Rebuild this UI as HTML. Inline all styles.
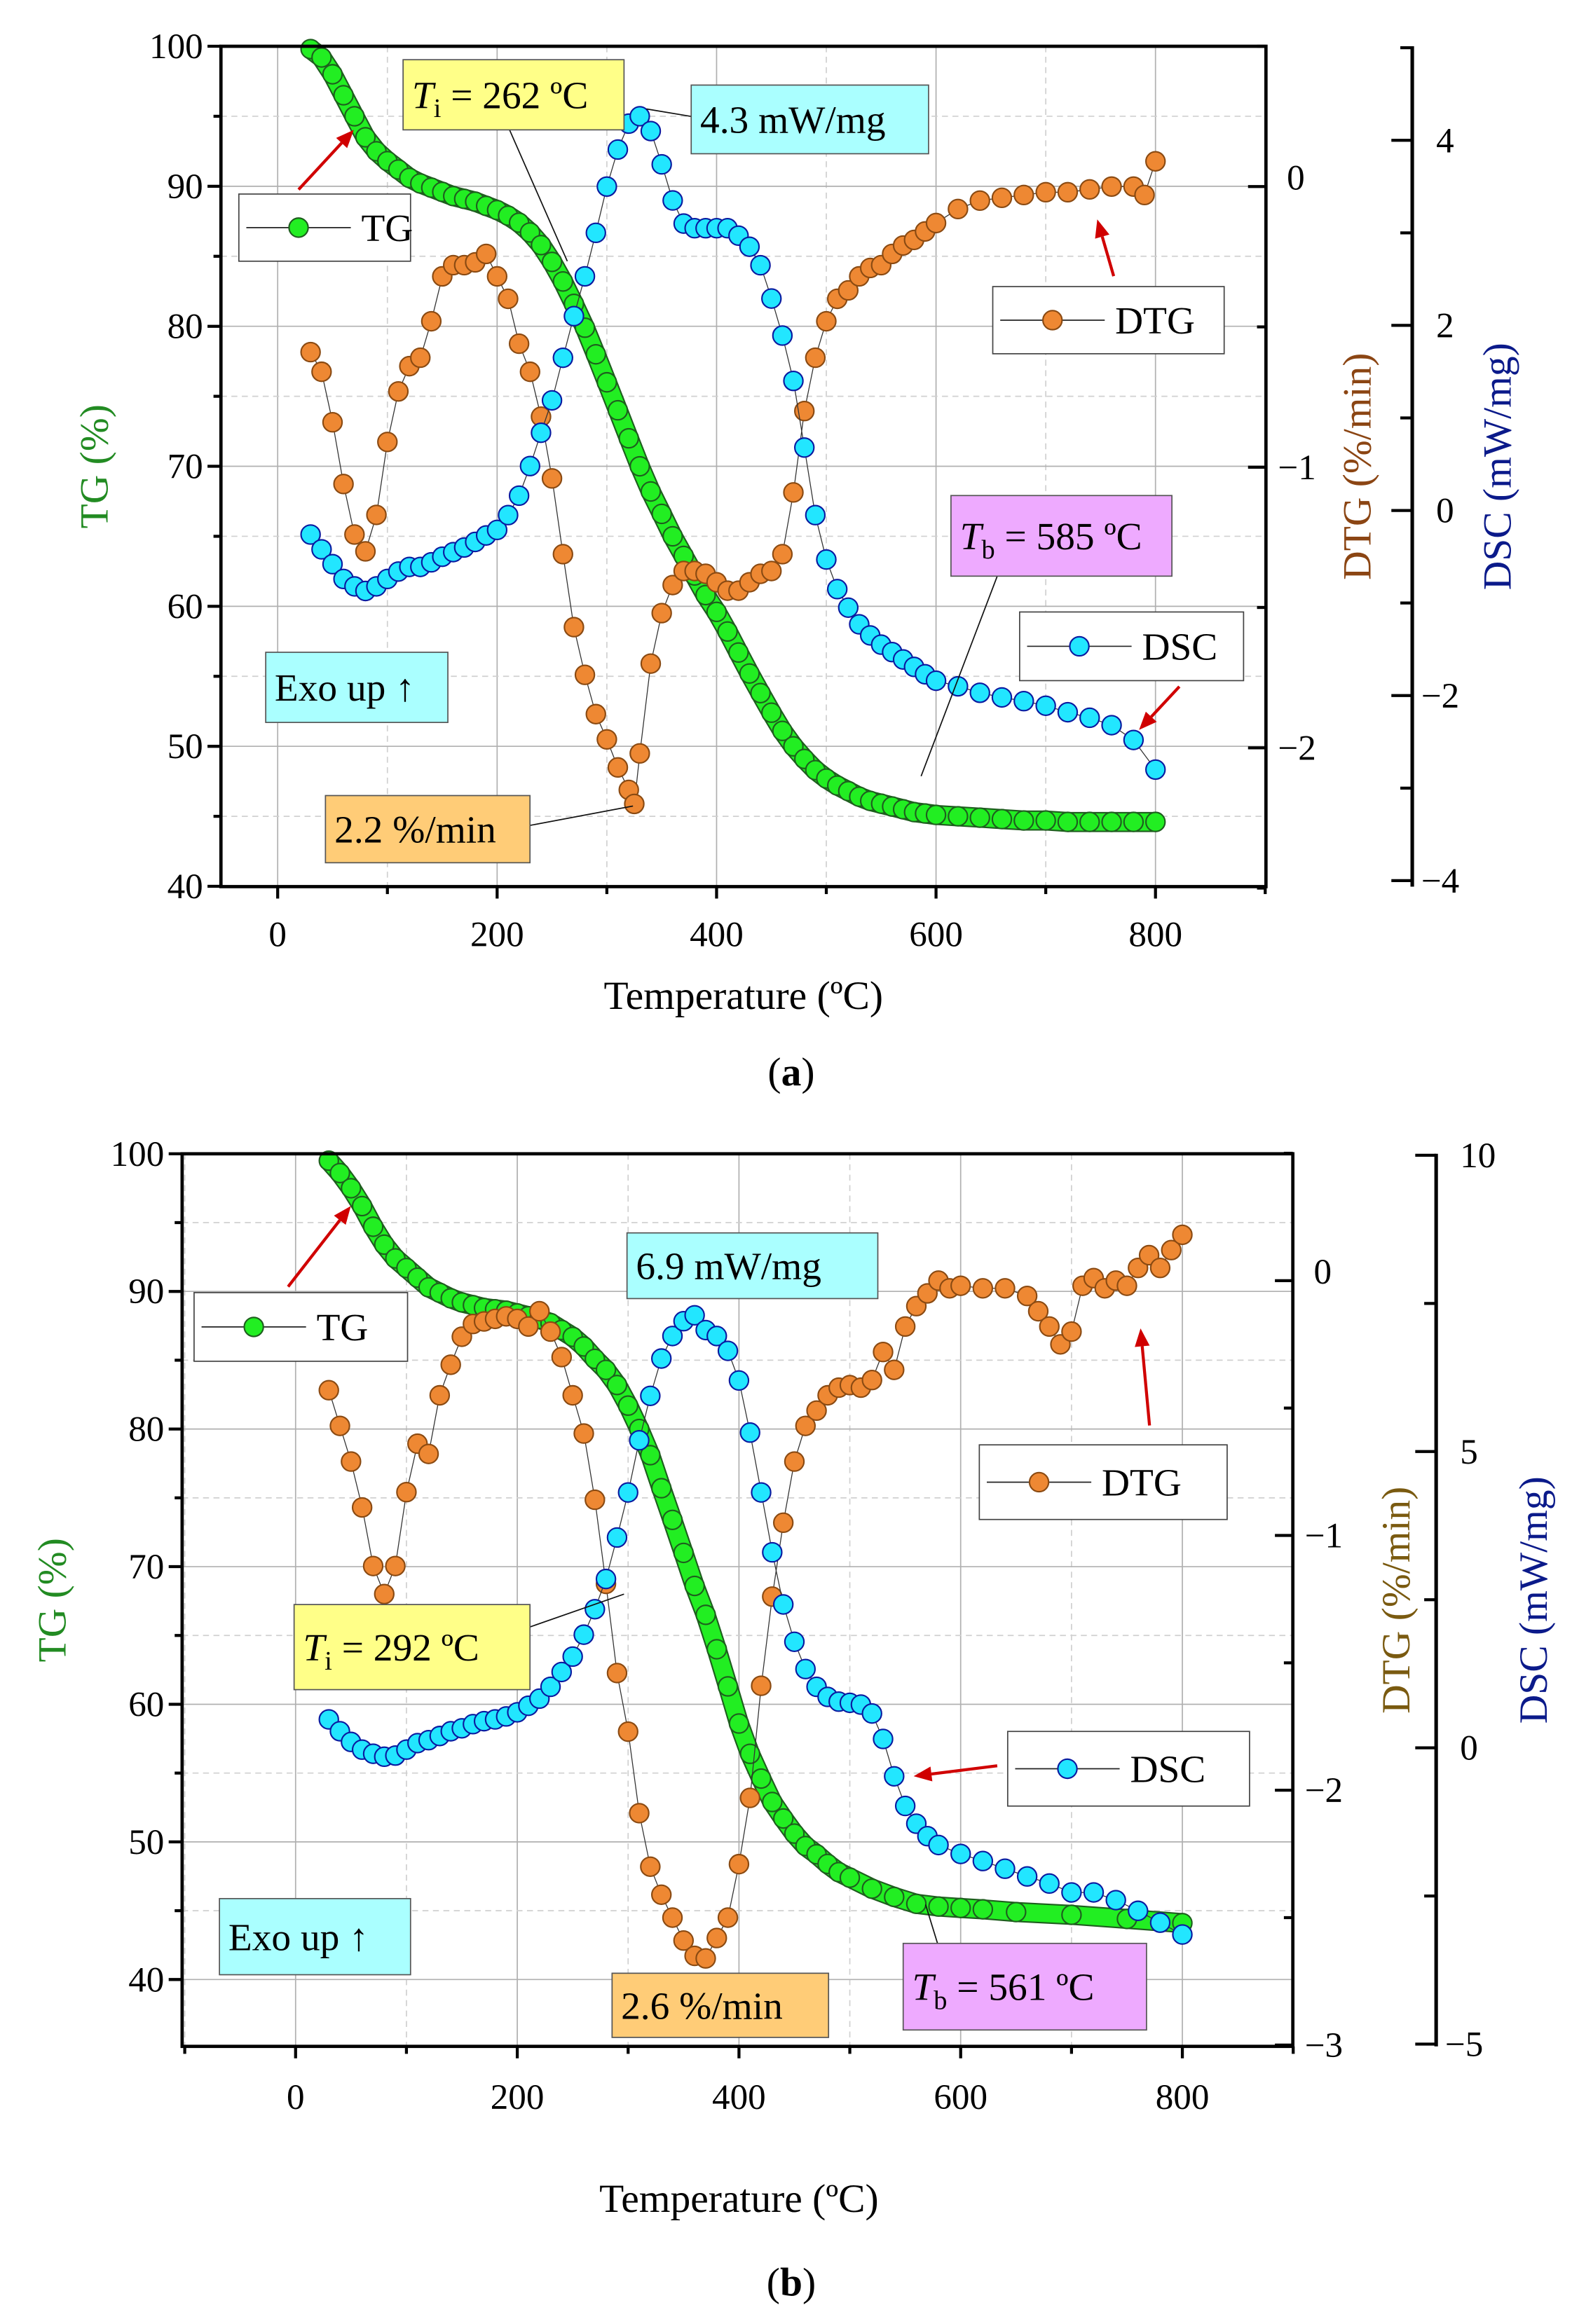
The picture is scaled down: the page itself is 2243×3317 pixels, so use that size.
<!DOCTYPE html>
<html><head><meta charset="utf-8">
<style>
html,body{margin:0;padding:0;background:#fff;}
svg{display:block;}
text{font-family:"Liberation Serif",serif;}
</style></head>
<body>
<svg id="fig" xmlns="http://www.w3.org/2000/svg" width="2243" height="3317" viewBox="0 0 1053 1557" preserveAspectRatio="none"></svg>
<script>
// ---------- Panel (a) data ----------
const tgTempA = [30,40,50,60,70,80,90,100,110,120,130,140,150,160,170,180,190,200,210,220,230,240,250,260,270,280,290,300,310,320,330,340,350,360,370,380,390,400,410,420,430,440,450,460,470,480,490,500,510,520,530,540,550,560,570,580,590,600,620,640,660,680,700,720,740,760,780,800];
const tgValA = [99.8,99.2,98.0,96.5,95.0,93.5,92.5,91.8,91.2,90.6,90.2,89.9,89.6,89.3,89.1,88.9,88.6,88.3,87.9,87.4,86.7,85.8,84.6,83.2,81.6,79.9,78.0,76.0,74.0,72.0,70.0,68.2,66.6,65.0,63.6,62.2,60.8,59.6,58.2,56.7,55.2,53.8,52.4,51.1,50.0,49.1,48.3,47.7,47.2,46.8,46.4,46.1,45.9,45.7,45.5,45.3,45.2,45.1,45.0,44.9,44.8,44.7,44.7,44.6,44.6,44.6,44.6,44.6];
const dtgTempA = [30,40,50,60,70,80,90,100,110,120,130,140,150,160,170,180,190,200,210,220,230,240,250,260,270,280,290,300,310,320,325,330,340,350,360,370,380,390,400,410,420,430,440,450,460,470,480,490,500,510,520,530,540,550,560,570,580,590,600,620,640,660,680,700,720,740,760,780,790,800];
const dtgValA = [-0.59,-0.66,-0.84,-1.06,-1.24,-1.3,-1.17,-0.91,-0.73,-0.64,-0.61,-0.48,-0.32,-0.28,-0.28,-0.27,-0.24,-0.32,-0.4,-0.56,-0.66,-0.82,-1.04,-1.31,-1.57,-1.74,-1.88,-1.97,-2.07,-2.15,-2.2,-2.02,-1.7,-1.52,-1.42,-1.37,-1.37,-1.38,-1.41,-1.44,-1.44,-1.41,-1.38,-1.37,-1.31,-1.09,-0.8,-0.61,-0.48,-0.4,-0.37,-0.32,-0.29,-0.28,-0.24,-0.21,-0.19,-0.16,-0.13,-0.08,-0.05,-0.04,-0.03,-0.02,-0.02,-0.01,0.0,0.0,-0.03,0.09];
const dscTempA = [30,40,50,60,70,80,90,100,110,120,130,140,150,160,170,180,190,200,210,220,230,240,250,260,270,280,290,300,310,320,330,340,350,360,370,380,390,400,410,420,430,440,450,460,470,480,490,500,510,520,530,540,550,560,570,580,590,600,620,640,660,680,700,720,740,760,780,800];
const dscValA = [-0.26,-0.42,-0.58,-0.74,-0.82,-0.87,-0.82,-0.74,-0.66,-0.61,-0.61,-0.56,-0.5,-0.45,-0.4,-0.34,-0.27,-0.21,-0.05,0.16,0.48,0.84,1.19,1.65,2.1,2.53,3.0,3.5,3.9,4.18,4.26,4.1,3.74,3.35,3.1,3.05,3.05,3.05,3.05,2.97,2.85,2.65,2.29,1.89,1.4,0.68,-0.05,-0.53,-0.85,-1.05,-1.23,-1.35,-1.45,-1.53,-1.61,-1.69,-1.77,-1.84,-1.9,-1.97,-2.02,-2.06,-2.11,-2.18,-2.24,-2.32,-2.48,-2.8];
// ---------- Panel (b) data ----------
const tgTempB = [30,40,50,60,70,80,90,100,110,120,130,140,150,160,170,180,190,200,210,220,230,240,250,260,270,280,290,300,310,320,330,340,350,360,370,380,390,400,410,420,430,440,450,460,470,480,490,500,520,540,560,580,600,620,650,700,750,800];
const tgValB = [99.5,98.6,97.5,96.2,94.7,93.4,92.4,91.7,91.0,90.3,89.9,89.5,89.2,89.0,88.8,88.7,88.6,88.4,88.2,88.0,87.7,87.2,86.7,86.0,85.1,84.3,83.2,81.7,80.0,78.1,75.7,73.4,71.0,68.6,66.5,64.0,61.3,58.6,56.4,54.6,52.9,51.7,50.6,49.7,49.1,48.4,47.8,47.4,46.6,46.0,45.5,45.3,45.2,45.1,44.9,44.7,44.4,44.1];
const dtgTempB = [30,40,50,60,70,80,90,100,110,120,130,140,150,160,170,180,190,200,210,220,230,240,250,260,270,280,290,300,310,320,330,340,350,360,370,380,390,400,410,420,430,440,450,460,470,480,490,500,510,520,530,540,550,560,570,580,590,600,620,640,660,670,680,690,700,710,720,730,740,750,760,770,780,790,800];
const dtgValB = [-0.43,-0.57,-0.71,-0.89,-1.12,-1.23,-1.12,-0.83,-0.64,-0.68,-0.45,-0.33,-0.22,-0.17,-0.16,-0.15,-0.14,-0.15,-0.18,-0.12,-0.2,-0.3,-0.45,-0.6,-0.86,-1.19,-1.54,-1.77,-2.09,-2.3,-2.41,-2.5,-2.59,-2.65,-2.66,-2.58,-2.5,-2.29,-2.03,-1.59,-1.24,-0.95,-0.71,-0.57,-0.51,-0.45,-0.42,-0.41,-0.42,-0.39,-0.28,-0.35,-0.18,-0.1,-0.05,0.0,-0.03,-0.02,-0.03,-0.03,-0.06,-0.12,-0.18,-0.25,-0.2,-0.02,0.01,-0.03,0.0,-0.02,0.05,0.1,0.05,0.12,0.18];
const dscTempB = [30,40,50,60,70,80,90,100,110,120,130,140,150,160,170,180,190,200,210,220,230,240,250,260,270,280,290,300,310,320,330,340,350,360,370,380,390,400,410,420,430,440,450,460,470,480,490,500,510,520,530,540,550,560,570,580,600,620,640,660,680,700,720,740,760,780,800];
const dscValB = [0.48,0.28,0.1,-0.03,-0.1,-0.15,-0.13,-0.03,0.08,0.13,0.2,0.28,0.33,0.4,0.45,0.48,0.53,0.6,0.71,0.83,1.03,1.28,1.54,1.91,2.34,2.85,3.55,4.31,5.19,5.94,6.57,6.95,7.2,7.3,7.05,6.95,6.7,6.2,5.32,4.31,3.3,2.42,1.79,1.33,1.03,0.86,0.78,0.76,0.73,0.58,0.15,-0.48,-0.98,-1.28,-1.49,-1.64,-1.79,-1.91,-2.04,-2.17,-2.29,-2.44,-2.44,-2.57,-2.75,-2.95,-3.15];

const tempTicks = [0,200,400,600,800];
const tgTicks = [40,50,60,70,80,90,100];
const dtgTicksA = [0,-1,-2];
const dscTicksA = [4,2,0,-2,-4];
const dtgTicksB = [0,-1,-2,-3];
const dscTicksB = [10,5,0,-5];

const NS = "http://www.w3.org/2000/svg";
const svg = document.getElementById('fig');
function el(tag, attrs, parent, txt){
  const e = document.createElementNS(NS, tag);
  for (const k in attrs) e.setAttribute(k, attrs[k]);
  if (txt !== undefined) e.textContent = txt;
  (parent||svg).appendChild(e);
  return e;
}
function fmt(v){ return v<0 ? '\u2212'+Math.abs(v) : String(v); }

function panel(P){
  const g = el('g', {});
  
  
  const X = t => P.L + (t - P.t0) * (P.x800 - P.x0px) / 800 + 0;
  const xs = t => P.x0px + t * (P.x800 - P.x0px) / 800;
  const Ytg = v => P.y100 + (100 - v) * P.tgPer10 / 10;
  const Ydtg = v => P.ydtg0 - v * P.dtgPer;
  const Ydsc = v => P.ydsc0 - v * P.dscPer;
  // grid
  for (let t=-100; t<=900; t+=100){
    const x = xs(t); if (x<=P.L+1 || x>=P.R-1) continue;
    const gl = el('line', {x1:x,y1:P.T,x2:x,y2:P.B,stroke: t%200===0?'#b0b0b0':'#d0d0d0','stroke-width':0.8,'stroke-dasharray': t%200===0?'none':'4,3'}, g);
     
  }
  for (let v=35; v<=100; v+=5){
    const y = Ytg(v); if (y<=P.T+1 || y>=P.B-1) continue;
    const gl = el('line', {x1:P.L,y1:y,x2:P.R,y2:y,stroke: v%10===0?'#b0b0b0':'#d0d0d0','stroke-width':0.8,'stroke-dasharray': v%10===0?'none':'4,3'}, g);
     
  }
  // series
  function series(temps, vals, Y, fill, stroke, nm, band){
    const sg = el('g', {}, g);
     
    const pts = temps.map((t,i)=> xs(t).toFixed(1)+','+Y(vals[i]).toFixed(1)).join(' ');
    if (band){
      el('polyline',{points:pts,fill:'none',stroke:stroke,'stroke-width':13.5,'stroke-linejoin':'round','stroke-linecap':'round'},sg);
      el('polyline',{points:pts,fill:'none',stroke:fill,'stroke-width':11.5,'stroke-linejoin':'round','stroke-linecap':'round'},sg);
    } else {
      el('polyline',{points:pts,fill:'none',stroke:'#333','stroke-width':0.6},sg);
    }
    temps.forEach((t,i)=>{
      const c = el('circle',{cx:xs(t),cy:Y(vals[i]),r:6.4,fill:fill,stroke:stroke,'stroke-width':1},sg);
      
      
    });
  }
  series(P.tgT, P.tgV, Ytg, '#22ee22', '#1e5e1e', 'tg', true);
  series(P.dtgT, P.dtgV, Ydtg, '#ee8833', '#8a4a12', 'dtg', false);
  series(P.dscT, P.dscV, Ydsc, '#22e6ff', '#0a1aa0', 'dsc', false);
  // frame
  const fr = el('rect',{x:P.L,y:P.T,width:P.R-P.L,height:P.B-P.T,fill:'none',stroke:'#000','stroke-width':2.2},g);
   
  // left ticks
  for (let v=35; v<=100; v+=5){
    const y=Ytg(v); if (y<P.T-1||y>P.B+1) continue;
    el('line',{x1:P.L,y1:y,x2:P.L-(v%10===0?9:5),y2:y,stroke:'#000','stroke-width':2},g);
  }
  tgTicks.forEach(v=>{
    const tx = el('text',{x:P.L-12,y:Ytg(v)+8,'font-size':24,'text-anchor':'end'},g,String(v));
     
  });
  // bottom ticks
  for (let t=-100; t<=900; t+=100){
    const x=xs(t); if (x<P.L-1||x>P.R+1) continue;
    el('line',{x1:x,y1:P.B,x2:x,y2:P.B+(t%200===0?8:5),stroke:'#000','stroke-width':2},g);
  }
  tempTicks.forEach(t=>{
    const tx = el('text',{x:xs(t),y:P.B+P.xlabOff,'font-size':24,'text-anchor':'middle'},g,String(t));
     
  });
  // DTG ticks (inward)
  for (let v=-3; v<=0.5; v+=0.5){
    const y=Ydtg(v); if (y<P.T-1||y>P.B+1) continue;
    el('line',{x1:P.R,y1:y,x2:P.R-(Number.isInteger(v)?12:6),y2:y,stroke:'#000','stroke-width':2},g);
  }
  P.dtgTicks.forEach(v=>{
    const tx = el('text',{x:P.R+(v<0?8:14),y:Ydtg(v)+(v===0?2:8),'font-size':24},g,fmt(v));
     
  });
  // DSC axis
  const da = el('line',{x1:P.D,y1:P.T,x2:P.D,y2:P.B,stroke:'#000','stroke-width':2.4},g);
   
  for (let v=P.dscMin; v<=P.dscMax+0.01; v+=P.dscMinor){
    const y=Ydsc(v); if (y<P.T-1||y>P.B+1) continue;
    const maj = Math.abs(Math.round(v/P.dscMajor)*P.dscMajor - v) < 1e-6;
    el('line',{x1:P.D,y1:y,x2:P.D-(maj?14:8),y2:y,stroke:'#000','stroke-width':2},g);
  }
  P.dscTicks.forEach(v=>{
    const tx = el('text',{x:P.D+(v<0?6:16),y:Ydsc(v)+8,'font-size':24},g,fmt(v));
     
  });
  // axis titles
  const cy=(P.T+P.B)/2;
  let t1 = el('text',{x:0,y:0,'font-size':27,fill:'#228b22','text-anchor':'middle',transform:`translate(${P.tgTitleX},${cy}) rotate(-90)`},g,'TG (%)');
   
  let t2 = el('text',{x:0,y:0,'font-size':27,fill:P.dtgColor,'text-anchor':'middle',transform:`translate(${P.dtgTitleX},${cy}) rotate(-90)`},g,'DTG (%/min)');
   
  let t3 = el('text',{x:0,y:0,'font-size':27,fill:'#0b1a8a','text-anchor':'middle',transform:`translate(${P.dscTitleX},${cy}) rotate(-90)`},g,'DSC (mW/mg)');
   
  let t4 = el('text',{x:P.xTitleX,y:P.xTitleY,'font-size':27,'text-anchor':'middle'},g,'Temperature (\u00BAC)');
   
  let t5 = el('text',{x:P.capX,y:P.capY,'font-size':27,'text-anchor':'middle'},g);
   
  t5.innerHTML = '(<tspan font-weight="bold">'+P.cap+'</tspan>)';
  return g;
}

function box(x,y,w,h,fill,html,nm){
  const g = el('g',{});
   
  el('rect',{x:x,y:y,width:w,height:h,fill:fill,stroke:'#555','stroke-width':0.8},g);
  const t = el('text',{x:x+6,y:y+h/2+9,'font-size':26},g);
  t.innerHTML = html;
  return g;
}
function legend(x,y,w,h,fill,stroke,label,nm){
  const g = el('g',{});
   
  el('rect',{x:x,y:y,width:w,height:h,fill:'#fff',stroke:'#444','stroke-width':0.8},g);
  el('line',{x1:x+5,y1:y+h/2,x2:x+75,y2:y+h/2,stroke:'#222','stroke-width':0.8},g);
  el('circle',{cx:x+40,cy:y+h/2,r:6.4,fill:fill,stroke:stroke,'stroke-width':1},g);
  el('text',{x:x+82,y:y+h/2+9,'font-size':26},g,label);
}
function arrow(x1,y1,x2,y2,nm){
  const g = el('g',{});
   
  const a=Math.atan2(y2-y1,x2-x1), L=12, W=5;
  const bx=x2-L*Math.cos(a), by=y2-L*Math.sin(a);
  el('line',{x1:x1,y1:y1,x2:bx,y2:by,stroke:'#d00000','stroke-width':2},g);
  el('polygon',{points:`${x2},${y2} ${bx-W*Math.sin(a)},${by+W*Math.cos(a)} ${bx+W*Math.sin(a)},${by-W*Math.cos(a)}`,fill:'#d00000'},g);
}
function leader(x1,y1,x2,y2){
  const l = el('line',{x1:x1,y1:y1,x2:x2,y2:y2,stroke:'#111','stroke-width':0.8});
   
}

// ----- Panel (a) -----
panel({name:'panel-a',L:148,R:848,T:31,B:594,x0px:186,x800:774,y100:31,tgPer10:93.8,
  ydtg0:125,dtgPer:188,ydsc0:342,dscPer:62,D:946,dscMin:-4,dscMax:5,dscMinor:1,dscMajor:2,
  tgT:tgTempA,tgV:tgValA,dtgT:dtgTempA,dtgV:dtgValA,dscT:dscTempA,dscV:dscValA,
  dtgTicks:dtgTicksA,dscTicks:dscTicksA,xlabOff:40,
  tgTitleX:72,dtgTitleX:918,dtgColor:'#8b4513',dscTitleX:1012,xTitleX:498,xTitleY:676,capX:530,capY:727,cap:'a'});
leader(340,84,380,175);
leader(463,78,433,73);
leader(668,386,617,520);
leader(355,553,424,540);
box(270,40,148,47,'#ffff88','<tspan font-style="italic">T</tspan><tspan font-size="18" dy="6">i</tspan><tspan dy="-6"> = 262 \u00BAC</tspan>','ti-annotation');
box(463,57,159,46,'#aaffff','4.3 mW/mg','dsc-peak-annotation');
box(637,332,148,54,'#eeaaff','<tspan font-style="italic">T</tspan><tspan font-size="18" dy="6">b</tspan><tspan dy="-6"> = 585 \u00BAC</tspan>','tb-annotation');
box(218,533,137,45,'#ffcc77','2.2 %/min','dtg-peak-annotation');
box(178,437,122,47,'#aaffff','Exo up \u2191','exo-up-note');
legend(160,130,115,45,'#22ee22','#1e5e1e','TG','tg-legend');
legend(665,192,155,45,'#ee8833','#8a4a12','DTG','dtg-legend');
legend(683,410,150,46,'#22e6ff','#0a1aa0','DSC','dsc-legend');
arrow(200,127,237,87,'tg-arrow');
arrow(746,185,735,147,'dtg-arrow');
arrow(790,460,763,489,'dsc-arrow');

// ----- Panel (b) -----
panel({name:'panel-b',L:122,R:866,T:773,B:1371,x0px:198,x800:792,y100:773,tgPer10:92.2,
  ydtg0:858,dtgPer:170.7,ydsc0:1171,dscPer:39.7,D:962,dscMin:-5,dscMax:10,dscMinor:2.5,dscMajor:5,
  tgT:tgTempB,tgV:tgValB,dtgT:dtgTempB,dtgV:dtgValB,dscT:dscTempB,dscV:dscValB,
  dtgTicks:dtgTicksB,dscTicks:dscTicksB,xlabOff:42,
  tgTitleX:44,dtgTitleX:944,dtgColor:'#7a5a10',dscTitleX:1036,xTitleX:495,xTitleY:1482,capX:530,capY:1538,cap:'b'});
leader(355,1090,418,1068);
leader(628,1302,620,1276);
box(420,826,168,44,'#aaffff','6.9 mW/mg','dsc-peak-annotation-b');
box(197,1075,158,57,'#ffff88','<tspan font-style="italic">T</tspan><tspan font-size="18" dy="6">i</tspan><tspan dy="-6"> = 292 \u00BAC</tspan>','ti-annotation-b');
box(147,1272,128,51,'#aaffff','Exo up \u2191','exo-up-note-b');
box(410,1322,145,43,'#ffcc77','2.6 %/min','dtg-peak-annotation-b');
box(605,1302,163,58,'#eeaaff','<tspan font-style="italic">T</tspan><tspan font-size="18" dy="6">b</tspan><tspan dy="-6"> = 561 \u00BAC</tspan>','tb-annotation-b');
legend(130,866,143,46,'#22ee22','#1e5e1e','TG','tg-legend-b');
legend(656,968,166,50,'#ee8833','#8a4a12','DTG','dtg-legend-b');
legend(675,1160,162,50,'#22e6ff','#0a1aa0','DSC','dsc-legend-b');
arrow(193,862,235,808,'tg-arrow-b');
arrow(770,955,764,890,'dtg-arrow-b');
arrow(668,1183,612,1190,'dsc-arrow-b');
</script>
</body></html>
